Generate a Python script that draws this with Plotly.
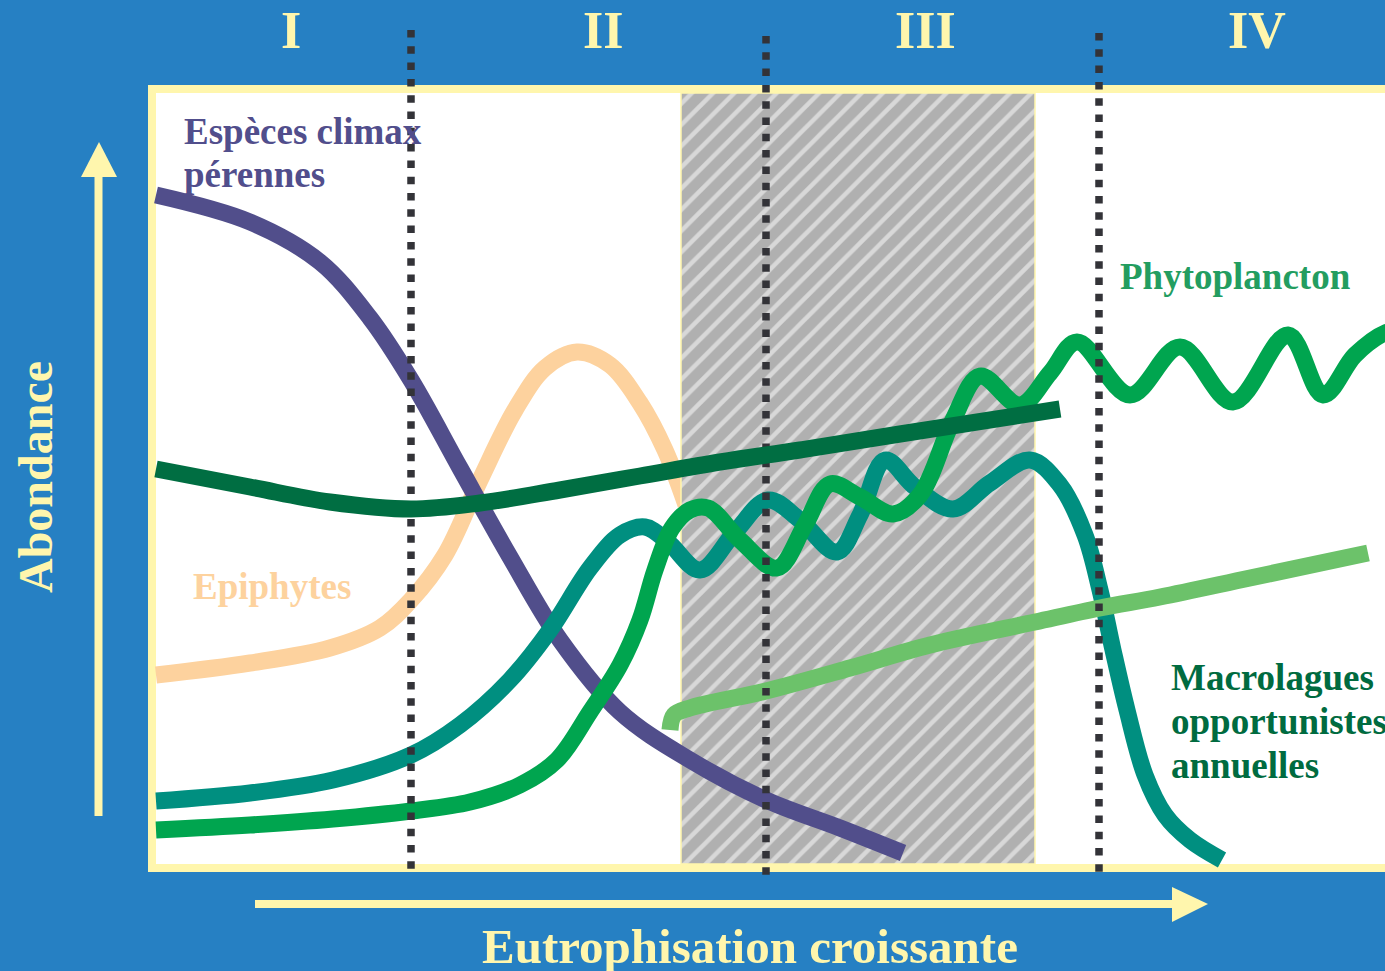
import plotly.graph_objects as go

# ---- data (positions on the eutrophication axis / abundance axis) ----
climax_x = [156, 250, 320, 370, 411, 460, 510, 560, 620, 690, 766, 840, 903]
climax_y = [195, 222, 262, 318, 380, 468, 557, 640, 712, 760, 800, 828, 853]

epi_x = [156, 250, 330, 380, 411, 445, 480, 515, 545, 577, 610, 640, 665, 686]
epi_y = [675, 663, 648, 628, 600, 555, 480, 410, 368, 352, 365, 403, 450, 505]

seagrass_x = [156, 250, 330, 411, 480, 560, 640, 720, 800, 900, 1060]
seagrass_y = [469, 487, 502, 509, 503, 490, 476, 462, 450, 434, 409]

macro_x = [156, 250, 333, 411, 460, 510, 550, 590, 620, 645, 668, 700, 735, 768, 800, 837,
           860, 885, 915, 953, 990, 1030, 1060, 1085, 1100, 1113, 1127, 1145, 1165, 1190, 1222]
macro_y = [801, 793, 780, 755, 725, 680, 630, 568, 535, 527, 542, 570, 532, 500, 520, 552,
           515, 460, 487, 509, 483, 460, 485, 535, 590, 650, 710, 775, 815, 840, 860]

phyto_x = [156, 250, 333, 411, 470, 520, 557, 590, 620, 640, 655, 672, 690, 708, 740, 777, 805,
           830, 860, 893, 920, 953, 980, 1020, 1050, 1077, 1130, 1180, 1233, 1288, 1323, 1355,
           1385, 1420]
phyto_y = [830, 825, 819, 811, 802, 785, 760, 712, 665, 620, 570, 528, 510, 508, 540, 568, 525,
           484, 497, 514, 495, 420, 376, 405, 373, 342, 395, 347, 402, 335, 395, 355,
           333, 328]

annual_x = [670, 674, 690, 766, 850, 930, 1035, 1100, 1160, 1250, 1368]
annual_y = [730, 715, 708, 691, 668, 645, 622, 608, 597, 578, 553]

hatch_x = [681, 1035]
frame_x = [152, 1400]
frame_y = [89, 868]
divider_x = [411, 766, 1099]
divider_top = [30, 36, 33]
divider_bottom = [873, 876, 873]

zone_labels = ["I", "II", "III", "IV"]
zone_x = [291, 603, 925, 1257]

# ---- styles ----
BLUE = "#2680c3"
CREAM = "#fff6ad"
FONT = "Liberation Serif"

fig = go.Figure()

LW = 17

def curve(x, y, color, width=LW):
    fig.add_trace(go.Scatter(x=x, y=y, mode="lines",
                             line=dict(color=color, width=width, shape="spline", smoothing=1.0),
                             hoverinfo="skip", showlegend=False))

# Epiphytes (below hatch)
curve(epi_x, epi_y, "#fdd29e")

# hatched zone
fig.add_trace(go.Scatter(
    x=[hatch_x[0], hatch_x[1], hatch_x[1], hatch_x[0], hatch_x[0]],
    y=[frame_y[0] + 4, frame_y[0] + 4, frame_y[1] - 4, frame_y[1] - 4, frame_y[0] + 4],
    mode="lines", fill="toself", fillcolor="#b0b0b0",
    fillpattern=dict(shape="/", bgcolor="#b0b0b0", fgcolor="#ffffff", size=15, solidity=0.3),
    line=dict(color=CREAM, width=1.5), hoverinfo="skip", showlegend=False))

curve(climax_x, climax_y, "#514e8b")
curve(macro_x, macro_y, "#008f80")
curve(phyto_x, phyto_y, "#00a54f")
curve(annual_x, annual_y, "#6cc26a")

# dotted dividers
for dx, t, b in zip(divider_x, divider_top, divider_bottom):
    fig.add_trace(go.Scatter(x=[dx, dx], y=[t, b], mode="lines",
                             line=dict(color="#333338", width=7.5, dash="7.5px,8.8px"),
                             hoverinfo="skip", showlegend=False))

curve(seagrass_x, seagrass_y, "#006e42")

shapes = [
    # frame
    dict(type="rect", xref="x", yref="y", x0=frame_x[0], x1=frame_x[1], y0=frame_y[0], y1=frame_y[1],
         line=dict(color=CREAM, width=8), fillcolor="white", layer="below"),
    # vertical arrow
    dict(type="line", xref="x", yref="y", x0=98.5, x1=98.5, y0=816, y1=175,
         line=dict(color=CREAM, width=8), layer="above"),
    dict(type="path", xref="x", yref="y", path="M 81 177 L 117 177 L 99 142 Z",
         fillcolor=CREAM, line=dict(width=0), layer="above"),
    # horizontal arrow
    dict(type="line", xref="x", yref="y", x0=255, x1=1174, y0=904, y1=904,
         line=dict(color=CREAM, width=8), layer="above"),
    dict(type="path", xref="x", yref="y", path="M 1172 887 L 1172 922 L 1208 904 Z",
         fillcolor=CREAM, line=dict(width=0), layer="above"),
]

def text(x, y, s, size, color, xanchor="left", yanchor="middle", angle=0):
    return dict(x=x, y=y, xref="x", yref="y", text=s, showarrow=False,
                xanchor=xanchor, yanchor=yanchor, textangle=angle,
                font=dict(family=FONT, size=size, color=color, weight="bold"))

annotations = []
for lab, zx in zip(zone_labels, zone_x):
    annotations.append(text(zx, 30, lab, 52, CREAM, xanchor="center"))
annotations += [
    text(35, 477, "Abondance", 48, CREAM, xanchor="center", angle=-90),
    text(750, 946, "Eutrophisation croissante", 49, CREAM, xanchor="center"),
    text(182, 131, "Espèces climax", 37, "#514e8c"),
    text(182, 174, "pérennes", 37, "#514e8c"),
    text(191, 586, "Epiphytes", 37, "#fdd29e"),
    text(1118, 276, "Phytoplancton", 37, "#239d60"),
    text(1169, 677, "Macrolagues", 37, "#006b40"),
    text(1169, 721, "opportunistes", 37, "#006b40"),
    text(1169, 765, "annuelles", 37, "#006b40"),
]

fig.update_layout(
    width=1385, height=971,
    margin=dict(l=0, r=0, t=0, b=0),
    paper_bgcolor=BLUE, plot_bgcolor=BLUE,
    xaxis=dict(range=[0, 1385], visible=False, fixedrange=True),
    yaxis=dict(range=[971, 0], visible=False, fixedrange=True),
    shapes=shapes, annotations=annotations,
    showlegend=False,
)

fig.write_html("out.html", config={"displayModeBar": False},
               post_script="document.body.style.margin='0';document.body.style.overflow='hidden';")
